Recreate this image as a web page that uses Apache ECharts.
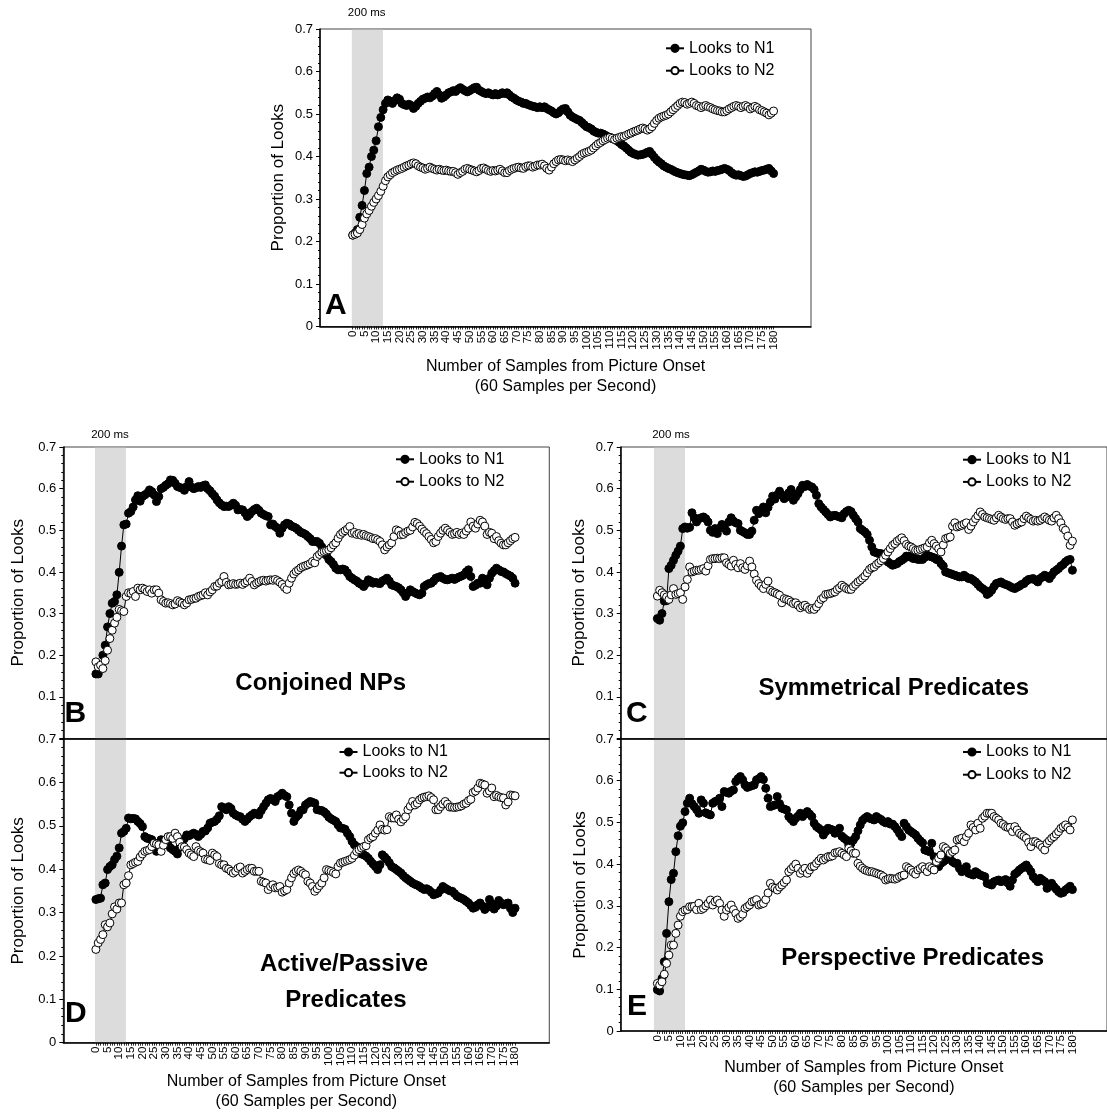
<!DOCTYPE html>
<html lang="en">
<head>
<meta charset="UTF-8" />
<title>Proportion of Looks</title>
<style>
  html, body { margin: 0; padding: 0; background: #fff; }
  #main { width: 1107px; height: 1113px; }
</style>
</head>
<body>
<div id="main"></div>
<script src="https://cdn.jsdelivr.net/npm/echarts@6/dist/echarts.min.js"></script>
<script>
const seriesNames = ['Looks to N1', 'Looks to N2']
const xTickLabels = [0, 5, 10, 15, 20, 25, 30, 35, 40, 45, 50, 55, 60, 65, 70, 75, 80, 85, 90,
  95, 100, 105, 110, 115, 120, 125, 130, 135, 140, 145, 150, 155, 160, 165, 170, 175, 180]

// A
const aN1 = [0.215, 0.22, 0.228, 0.257, 0.285, 0.32, 0.36, 0.375, 0.40, 0.415, 0.437, 0.47, 0.492, 0.51, 0.525,
  0.533, 0.53, 0.525, 0.532, 0.538, 0.535,
  0.525, 0.522, 0.52, 0.523, 0.52, 0.513, 0.518, 0.525, 0.53, 0.535,
  0.537, 0.54, 0.538, 0.542, 0.548, 0.553, 0.545, 0.537, 0.54, 0.545,
  0.55, 0.552, 0.555, 0.553, 0.558, 0.562, 0.558, 0.555, 0.552, 0.555,
  0.558, 0.562, 0.563, 0.556, 0.553, 0.55, 0.548, 0.55, 0.547, 0.545,
  0.548, 0.545, 0.547, 0.55, 0.548, 0.55, 0.545, 0.54, 0.537, 0.533,
  0.53, 0.528, 0.525, 0.525, 0.522, 0.52, 0.518, 0.517, 0.515, 0.517,
  0.515, 0.517, 0.513, 0.51, 0.507, 0.503, 0.5, 0.503, 0.508, 0.512,
  0.513, 0.505, 0.497, 0.493, 0.49, 0.487, 0.485, 0.48, 0.475, 0.47,
  0.468, 0.465, 0.46, 0.457, 0.455, 0.455, 0.453, 0.45, 0.447, 0.445,
  0.442, 0.44, 0.437, 0.433, 0.428, 0.425, 0.42, 0.415, 0.41, 0.407,
  0.405, 0.403, 0.404, 0.405, 0.407, 0.41, 0.412, 0.405, 0.398, 0.392,
  0.387, 0.383, 0.378, 0.375, 0.372, 0.37, 0.367, 0.364, 0.362, 0.36,
  0.358, 0.357, 0.356, 0.355, 0.357, 0.36, 0.363, 0.366, 0.37, 0.368,
  0.365, 0.363, 0.364, 0.366, 0.365, 0.367, 0.368, 0.37, 0.372, 0.37,
  0.367, 0.362, 0.358, 0.356, 0.357, 0.355, 0.353, 0.354, 0.357, 0.36,
  0.362, 0.364, 0.363, 0.365, 0.367, 0.368, 0.37, 0.372, 0.366, 0.36]
const aN2 = [0.215, 0.217, 0.22, 0.228, 0.24, 0.255, 0.265, 0.273, 0.283, 0.292, 0.3, 0.308, 0.318, 0.33, 0.343,
  0.352, 0.357, 0.362, 0.365, 0.368, 0.37,
  0.372, 0.375, 0.378, 0.38, 0.383, 0.385, 0.383, 0.378, 0.375, 0.373,
  0.37, 0.372, 0.375, 0.372, 0.37, 0.368, 0.37, 0.368, 0.367, 0.368,
  0.366, 0.365, 0.365, 0.362, 0.358, 0.362, 0.365, 0.37, 0.372, 0.37,
  0.368, 0.366, 0.364, 0.367, 0.372, 0.373, 0.37, 0.367, 0.365, 0.367,
  0.366, 0.368, 0.37, 0.366, 0.362, 0.362, 0.367, 0.37, 0.372, 0.374,
  0.375, 0.373, 0.372, 0.376, 0.378, 0.378, 0.375, 0.377, 0.38, 0.38,
  0.382, 0.378, 0.372, 0.368, 0.375, 0.383, 0.388, 0.392, 0.393, 0.392,
  0.39, 0.392, 0.39, 0.388, 0.392, 0.396, 0.4, 0.405, 0.408, 0.41,
  0.412, 0.415, 0.42, 0.425, 0.43, 0.433, 0.437, 0.44, 0.443, 0.445,
  0.443, 0.44, 0.443, 0.445, 0.447, 0.447, 0.45, 0.453, 0.455, 0.458,
  0.46, 0.462, 0.465, 0.467, 0.465, 0.462, 0.465, 0.47, 0.478, 0.485,
  0.49, 0.493, 0.495, 0.497, 0.5, 0.505, 0.51, 0.515, 0.52, 0.525,
  0.528, 0.527, 0.523, 0.525, 0.528, 0.525, 0.52, 0.518, 0.515, 0.518,
  0.52, 0.517, 0.515, 0.512, 0.51, 0.508, 0.507, 0.505, 0.505, 0.508,
  0.512, 0.515, 0.518, 0.52, 0.518, 0.515, 0.518, 0.52, 0.517, 0.512,
  0.515, 0.518, 0.515, 0.51, 0.508, 0.505, 0.502, 0.498, 0.502, 0.507]

// B
const bN1 = [0.155, 0.155, 0.17, 0.2, 0.224, 0.268, 0.3, 0.325, 0.329, 0.345, 0.399, 0.462, 0.513, 0.515, 0.541,
  0.545, 0.556, 0.573, 0.583, 0.57, 0.581,
  0.585, 0.589, 0.597, 0.593, 0.585, 0.569, 0.581, 0.6, 0.603, 0.608,
  0.612, 0.621, 0.62, 0.613, 0.605, 0.603, 0.601, 0.596, 0.605, 0.617,
  0.604, 0.6, 0.602, 0.605, 0.603, 0.607, 0.609, 0.6, 0.595, 0.588,
  0.582, 0.573, 0.566, 0.561, 0.557, 0.558, 0.557, 0.56, 0.565, 0.56,
  0.549, 0.55, 0.549, 0.542, 0.533, 0.538, 0.545, 0.55, 0.553, 0.548,
  0.541, 0.538, 0.535, 0.533, 0.513, 0.515, 0.509, 0.505, 0.493, 0.505,
  0.513, 0.517, 0.515, 0.51, 0.508, 0.505, 0.5, 0.495, 0.493, 0.49,
  0.485, 0.48, 0.473, 0.473, 0.473, 0.469, 0.46, 0.445, 0.44, 0.43,
  0.425, 0.418, 0.409, 0.405, 0.405, 0.407, 0.405, 0.398, 0.389, 0.385,
  0.381, 0.378, 0.373, 0.37, 0.365, 0.372, 0.381, 0.378, 0.373, 0.375,
  0.373, 0.372, 0.378, 0.381, 0.385, 0.378, 0.369, 0.367, 0.365, 0.362,
  0.357, 0.35, 0.341, 0.35, 0.357, 0.353, 0.35, 0.347, 0.345, 0.349,
  0.365, 0.369, 0.372, 0.373, 0.378, 0.385, 0.387, 0.389, 0.385, 0.382,
  0.381, 0.383, 0.385, 0.382, 0.385, 0.388, 0.39, 0.393, 0.4, 0.405,
  0.389, 0.365, 0.368, 0.373, 0.373, 0.385, 0.378, 0.369, 0.385, 0.397,
  0.403, 0.409, 0.405, 0.401, 0.4, 0.396, 0.393, 0.39, 0.385, 0.373]
const bN2 = [0.184, 0.172, 0.176, 0.168, 0.187, 0.212, 0.24, 0.26, 0.277, 0.291, 0.31, 0.307, 0.305, 0.341, 0.35,
  0.349, 0.353, 0.341, 0.361, 0.357, 0.361,
  0.358, 0.353, 0.357, 0.349, 0.357, 0.357, 0.349, 0.333, 0.329, 0.325,
  0.326, 0.324, 0.321, 0.323, 0.331, 0.328, 0.325, 0.321, 0.325, 0.333,
  0.334, 0.336, 0.337, 0.341, 0.343, 0.345, 0.35, 0.345, 0.352, 0.357,
  0.365, 0.366, 0.373, 0.377, 0.389, 0.375, 0.369, 0.37, 0.372, 0.37,
  0.371, 0.373, 0.37, 0.374, 0.378, 0.385, 0.377, 0.369, 0.373, 0.376,
  0.379, 0.38, 0.378, 0.38, 0.381, 0.38, 0.382, 0.379, 0.375, 0.37,
  0.363, 0.358, 0.373, 0.385, 0.395, 0.401, 0.405, 0.41, 0.413, 0.415,
  0.417, 0.42, 0.425, 0.422, 0.437, 0.442, 0.447, 0.449, 0.451, 0.453,
  0.458, 0.465, 0.47, 0.481, 0.49, 0.495, 0.499, 0.503, 0.509, 0.493,
  0.495, 0.49, 0.492, 0.488, 0.49, 0.487, 0.485, 0.483, 0.48, 0.48,
  0.477, 0.473, 0.465, 0.453, 0.46, 0.465, 0.47, 0.485, 0.501, 0.498,
  0.489, 0.49, 0.495, 0.498, 0.5, 0.508, 0.519, 0.516, 0.51, 0.503,
  0.497, 0.492, 0.485, 0.478, 0.47, 0.473, 0.485, 0.493, 0.5, 0.505,
  0.5, 0.495, 0.49, 0.492, 0.495, 0.49, 0.493, 0.49, 0.498, 0.505,
  0.52, 0.51, 0.505, 0.515, 0.524, 0.52, 0.51, 0.49, 0.495, 0.493,
  0.48, 0.485, 0.475, 0.469, 0.465, 0.465, 0.47, 0.475, 0.48, 0.483]

// C
const cN1 = [0.288, 0.284, 0.3, 0.33, 0.331, 0.408, 0.416, 0.428, 0.44, 0.45, 0.462, 0.504, 0.508, 0.505, 0.507,
  0.542, 0.53, 0.52, 0.528, 0.53, 0.532,
  0.528, 0.52, 0.5, 0.495, 0.504, 0.492, 0.505, 0.514, 0.51, 0.498,
  0.52, 0.53, 0.522, 0.518, 0.516, 0.5, 0.497, 0.494, 0.49, 0.49,
  0.498, 0.524, 0.548, 0.54, 0.548, 0.556, 0.542, 0.555, 0.568, 0.582,
  0.575, 0.585, 0.594, 0.585, 0.576, 0.58, 0.59, 0.598, 0.572, 0.58,
  0.588, 0.598, 0.608, 0.605, 0.61, 0.606, 0.604, 0.598, 0.584, 0.564,
  0.556, 0.55, 0.544, 0.538, 0.532, 0.535, 0.536, 0.534, 0.532, 0.53,
  0.54, 0.545, 0.548, 0.545, 0.536, 0.528, 0.52, 0.504, 0.5, 0.496,
  0.49, 0.476, 0.46, 0.448, 0.446, 0.444, 0.444, 0.442, 0.44, 0.424,
  0.42, 0.416, 0.418, 0.42, 0.425, 0.428, 0.432, 0.438, 0.438, 0.435,
  0.432, 0.432, 0.43, 0.43, 0.43, 0.435, 0.44, 0.438, 0.436, 0.434,
  0.43, 0.428, 0.42, 0.414, 0.4, 0.398, 0.396, 0.394, 0.392, 0.39,
  0.388, 0.388, 0.392, 0.388, 0.384, 0.384, 0.38, 0.376, 0.37, 0.364,
  0.36, 0.356, 0.346, 0.35, 0.356, 0.365, 0.372, 0.374, 0.376, 0.372,
  0.37, 0.368, 0.365, 0.362, 0.36, 0.363, 0.366, 0.37, 0.372, 0.378,
  0.382, 0.383, 0.384, 0.38, 0.376, 0.384, 0.388, 0.392, 0.388, 0.384,
  0.392, 0.4, 0.404, 0.408, 0.414, 0.418, 0.424, 0.428, 0.43, 0.404]
const cN2 = [0.342, 0.356, 0.35, 0.345, 0.34, 0.334, 0.345, 0.36, 0.346, 0.348, 0.35, 0.334, 0.364, 0.382, 0.412,
  0.4, 0.402, 0.404, 0.404, 0.406, 0.408,
  0.402, 0.415, 0.43, 0.432, 0.432, 0.433, 0.432, 0.434, 0.434, 0.422,
  0.418, 0.414, 0.428, 0.418, 0.41, 0.42, 0.41, 0.406, 0.415, 0.426,
  0.412, 0.395, 0.38, 0.372, 0.366, 0.36, 0.37, 0.378, 0.356, 0.352,
  0.35, 0.347, 0.344, 0.326, 0.336, 0.334, 0.332, 0.328, 0.324, 0.326,
  0.32, 0.314, 0.318, 0.32, 0.315, 0.31, 0.312, 0.31, 0.316, 0.324,
  0.334, 0.338, 0.346, 0.347, 0.348, 0.35, 0.352, 0.358, 0.362, 0.368,
  0.364, 0.36, 0.358, 0.358, 0.365, 0.37, 0.376, 0.38, 0.385, 0.39,
  0.398, 0.406, 0.41, 0.412, 0.418, 0.422, 0.427, 0.432, 0.44, 0.448,
  0.456, 0.464, 0.468, 0.474, 0.478, 0.482, 0.475, 0.466, 0.462, 0.46,
  0.456, 0.452, 0.452, 0.454, 0.456, 0.458, 0.46, 0.47, 0.476, 0.468,
  0.462, 0.456, 0.448, 0.465, 0.48, 0.482, 0.484, 0.51, 0.518, 0.508,
  0.51, 0.512, 0.515, 0.518, 0.502, 0.51, 0.52, 0.528, 0.535, 0.544,
  0.538, 0.532, 0.53, 0.528, 0.526, 0.524, 0.53, 0.536, 0.532, 0.528,
  0.526, 0.528, 0.528, 0.52, 0.512, 0.515, 0.518, 0.52, 0.528, 0.534,
  0.53, 0.526, 0.522, 0.524, 0.522, 0.524, 0.528, 0.532, 0.528, 0.524,
  0.522, 0.53, 0.536, 0.528, 0.518, 0.505, 0.5, 0.486, 0.464, 0.474]

// D
const dN1 = [0.33, 0.332, 0.333, 0.364, 0.368, 0.399, 0.406, 0.41, 0.422, 0.43, 0.449, 0.483, 0.487, 0.494, 0.518,
  0.516, 0.517, 0.516, 0.51, 0.505, 0.498,
  0.475, 0.471, 0.47, 0.468, 0.455, 0.441, 0.46, 0.468, 0.465, 0.462,
  0.456, 0.449, 0.445, 0.441, 0.435, 0.45, 0.46, 0.47, 0.479, 0.477,
  0.48, 0.483, 0.48, 0.475, 0.48, 0.487, 0.488, 0.495, 0.506, 0.508,
  0.51, 0.515, 0.523, 0.544, 0.54, 0.537, 0.544, 0.54, 0.529, 0.525,
  0.522, 0.521, 0.515, 0.51, 0.515, 0.521, 0.525, 0.529, 0.527, 0.525,
  0.535, 0.544, 0.552, 0.56, 0.563, 0.56, 0.556, 0.567, 0.57, 0.575,
  0.57, 0.567, 0.548, 0.529, 0.51, 0.52, 0.525, 0.535, 0.537, 0.548,
  0.552, 0.556, 0.554, 0.552, 0.537, 0.536, 0.535, 0.532, 0.527, 0.52,
  0.516, 0.513, 0.51, 0.502, 0.495, 0.494, 0.492, 0.483, 0.475, 0.464,
  0.456, 0.452, 0.437, 0.435, 0.433, 0.43, 0.425, 0.418, 0.412, 0.406,
  0.399, 0.41, 0.433, 0.428, 0.422, 0.415, 0.406, 0.403, 0.399, 0.395,
  0.391, 0.385, 0.38, 0.376, 0.372, 0.368, 0.365, 0.363, 0.36, 0.356,
  0.353, 0.355, 0.352, 0.347, 0.341, 0.343, 0.345, 0.352, 0.36, 0.356,
  0.353, 0.35, 0.349, 0.344, 0.338, 0.335, 0.333, 0.33, 0.326, 0.322,
  0.316, 0.31, 0.312, 0.318, 0.322, 0.315, 0.307, 0.312, 0.33, 0.32,
  0.308, 0.315, 0.328, 0.322, 0.318, 0.32, 0.322, 0.31, 0.3, 0.31]
const dN2 = [0.215, 0.23, 0.238, 0.249, 0.272, 0.267, 0.276, 0.297, 0.313, 0.308, 0.322, 0.322, 0.364, 0.368, 0.385,
  0.41, 0.413, 0.416, 0.418, 0.428, 0.435,
  0.441, 0.443, 0.445, 0.452, 0.46, 0.458, 0.456, 0.441, 0.455, 0.468,
  0.475, 0.475, 0.471, 0.483, 0.475, 0.462, 0.452, 0.451, 0.445, 0.437,
  0.433, 0.429, 0.452, 0.443, 0.44, 0.437, 0.423, 0.422, 0.42, 0.437,
  0.433, 0.429, 0.413, 0.41, 0.41, 0.402, 0.4, 0.395, 0.391, 0.395,
  0.402, 0.405, 0.391, 0.395, 0.399, 0.402, 0.402, 0.395, 0.395, 0.395,
  0.372, 0.37, 0.368, 0.353, 0.36, 0.364, 0.357, 0.358, 0.36, 0.347,
  0.35, 0.353, 0.368, 0.38, 0.39, 0.395, 0.398, 0.395, 0.39, 0.387,
  0.372, 0.368, 0.36, 0.349, 0.355, 0.362, 0.368, 0.38, 0.399, 0.397,
  0.395, 0.392, 0.389, 0.406, 0.414, 0.416, 0.418, 0.42, 0.422, 0.425,
  0.432, 0.441, 0.445, 0.449, 0.452, 0.454, 0.468, 0.472, 0.475, 0.483,
  0.49, 0.502, 0.492, 0.49, 0.491, 0.521, 0.518, 0.518, 0.525, 0.515,
  0.509, 0.515, 0.521, 0.537, 0.545, 0.556, 0.548, 0.552, 0.56, 0.564,
  0.566, 0.567, 0.569, 0.565, 0.56, 0.537, 0.537, 0.544, 0.55, 0.556,
  0.55, 0.543, 0.543, 0.542, 0.543, 0.544, 0.546, 0.55, 0.552, 0.558,
  0.561, 0.577, 0.58, 0.587, 0.598, 0.596, 0.594, 0.575, 0.58, 0.587,
  0.567, 0.57, 0.567, 0.565, 0.564, 0.548, 0.555, 0.571, 0.57, 0.569]

// E
const eN1 = [0.099, 0.096, 0.126, 0.166, 0.234, 0.31, 0.363, 0.378, 0.43, 0.468, 0.491, 0.499, 0.526, 0.546, 0.558,
  0.545, 0.538, 0.531, 0.522, 0.554, 0.546,
  0.523, 0.52, 0.518, 0.546, 0.55, 0.552, 0.558, 0.538, 0.574, 0.572,
  0.57, 0.575, 0.578, 0.598, 0.605, 0.61, 0.602, 0.59, 0.584, 0.586,
  0.588, 0.59, 0.602, 0.605, 0.61, 0.603, 0.582, 0.558, 0.538, 0.54,
  0.542, 0.562, 0.545, 0.534, 0.532, 0.53, 0.514, 0.508, 0.502, 0.51,
  0.515, 0.522, 0.514, 0.52, 0.526, 0.52, 0.514, 0.498, 0.49, 0.486,
  0.482, 0.47, 0.478, 0.486, 0.484, 0.482, 0.474, 0.48, 0.486, 0.467,
  0.462, 0.458, 0.446, 0.45, 0.458, 0.466, 0.48, 0.494, 0.505, 0.51,
  0.514, 0.51, 0.508, 0.506, 0.514, 0.51, 0.507, 0.502, 0.499, 0.502,
  0.496, 0.496, 0.49, 0.483, 0.474, 0.466, 0.498, 0.49, 0.482, 0.478,
  0.474, 0.47, 0.462, 0.456, 0.451, 0.434, 0.432, 0.43, 0.45, 0.418,
  0.405, 0.394, 0.402, 0.406, 0.41, 0.418, 0.412, 0.406, 0.402, 0.402,
  0.39, 0.382, 0.388, 0.394, 0.378, 0.376, 0.374, 0.382, 0.378, 0.374,
  0.372, 0.37, 0.354, 0.352, 0.35, 0.358, 0.36, 0.362, 0.358, 0.36,
  0.363, 0.355, 0.347, 0.362, 0.376, 0.38, 0.386, 0.39, 0.394, 0.398,
  0.39, 0.382, 0.37, 0.364, 0.358, 0.366, 0.362, 0.358, 0.342, 0.35,
  0.354, 0.346, 0.34, 0.334, 0.33, 0.332, 0.338, 0.342, 0.347, 0.339]
const eN2 = [0.114, 0.11, 0.118, 0.136, 0.162, 0.182, 0.206, 0.206, 0.234, 0.254, 0.275, 0.286, 0.29, 0.291, 0.298,
  0.298, 0.299, 0.291, 0.306, 0.291, 0.294,
  0.3, 0.306, 0.314, 0.302, 0.31, 0.314, 0.306, 0.29, 0.275, 0.29,
  0.296, 0.302, 0.291, 0.282, 0.27, 0.274, 0.28, 0.294, 0.298, 0.302,
  0.31, 0.312, 0.315, 0.302, 0.304, 0.306, 0.315, 0.331, 0.354, 0.345,
  0.342, 0.338, 0.345, 0.35, 0.356, 0.362, 0.382, 0.388, 0.394, 0.4,
  0.39, 0.378, 0.385, 0.39, 0.378, 0.386, 0.394, 0.395, 0.402, 0.408,
  0.414, 0.41, 0.414, 0.418, 0.418, 0.42, 0.427, 0.428, 0.43, 0.426,
  0.422, 0.418, 0.438, 0.432, 0.426, 0.426, 0.402, 0.395, 0.39, 0.386,
  0.384, 0.382, 0.382, 0.38, 0.378, 0.376, 0.374, 0.37, 0.362, 0.364,
  0.366, 0.365, 0.364, 0.366, 0.37, 0.372, 0.374, 0.394, 0.39, 0.386,
  0.38, 0.376, 0.386, 0.39, 0.394, 0.388, 0.382, 0.394, 0.39, 0.386,
  0.406, 0.414, 0.422, 0.442, 0.438, 0.432, 0.426, 0.43, 0.434, 0.458,
  0.46, 0.462, 0.454, 0.466, 0.474, 0.494, 0.488, 0.482, 0.498, 0.486,
  0.51, 0.515, 0.522, 0.522, 0.522, 0.514, 0.51, 0.506, 0.498, 0.495,
  0.49, 0.488, 0.488, 0.478, 0.49, 0.482, 0.474, 0.47, 0.466, 0.462,
  0.452, 0.442, 0.454, 0.454, 0.45, 0.446, 0.44, 0.434, 0.45, 0.456,
  0.462, 0.466, 0.472, 0.478, 0.486, 0.49, 0.494, 0.488, 0.482, 0.506]

const FONT = '"Liberation Sans", Arial, sans-serif'

// pixel layout of the five panels
const panels = [
  { n1: aN1, n2: aN2, grid: { left: 320, top: 29, width: 491, height: 297.5 }, xMin: -14, xMax: 196,
    band: [-0.4, 12.9], showX: true, xNameGap: 30.5, yNameGap: 41.5, hideZero: false,
    legend: { left: 665, top: 38.3, itemGap: 2.4 } },
  { n1: bN1, n2: bN2, grid: { left: 63.3, top: 447, width: 486, height: 291.5 }, xMin: -14, xMax: 194.7,
    band: [-0.4, 12.9], showX: false, yNameGap: 45, hideZero: true,
    legend: { left: 395, top: 449.3, itemGap: 2.4 } },
  { n1: cN1, n2: cN2, grid: { left: 620.7, top: 447, width: 491.5, height: 291.5 }, xMin: -15.9, xMax: 195,
    band: [-1.5, 12], showX: false, yNameGap: 41, hideZero: true,
    legend: { left: 962, top: 449.7, itemGap: 2.2 } },
  { n1: dN1, n2: dN2, grid: { left: 63.3, top: 739, width: 486, height: 303.7 }, xMin: -14, xMax: 194.7,
    band: [-0.4, 12.9], showX: true, xNameGap: 29, yNameGap: 45, hideZero: false,
    legend: { left: 338.5, top: 742, itemGap: 0.7 } },
  { n1: eN1, n2: eN2, grid: { left: 620.7, top: 739, width: 491.5, height: 292 }, xMin: -15.9, xMax: 195,
    band: [-1.5, 12], showX: true, xNameGap: 22.5, yNameGap: 40, hideZero: false,
    legend: { left: 962, top: 742, itemGap: 2.7 } }
]

const sampleTicks = aN1.map((_, i) => i)
// labels split over two axes so ECharts' overlap check keeps every one
const xLabelsTens = xTickLabels.filter(v => v % 10 === 0)
const xLabelsFives = xTickLabels.filter(v => v % 10 === 5)

const labelStyle = {
  rotate: 90, margin: 4, fontSize: 11.5, color: '#000', fontFamily: FONT,
  showMinLabel: true, showMaxLabel: true, hideOverlap: false
}

const grid = [], xAxis = [], extraX = [], yAxis = [], series = [], legend = []
panels.forEach((p, k) => {
  grid.push(Object.assign({ show: true, borderColor: '#444', borderWidth: 1, backgroundColor: 'transparent' }, p.grid))
  xAxis.push({
    type: 'value', gridIndex: k, position: 'bottom', min: p.xMin, max: p.xMax, z: 10,
    name: p.showX ? 'Number of Samples from Picture Onset\n(60 Samples per Second)' : '',
    nameLocation: 'middle', nameGap: p.xNameGap || 30,
    nameTextStyle: { fontSize: 16, color: '#000', lineHeight: 20, verticalAlign: 'top', fontFamily: FONT },
    splitLine: { show: false },
    axisLine: { show: true, onZero: false, lineStyle: { color: '#000', width: 1.5 } },
    axisTick: { show: p.showX, customValues: sampleTicks, length: 3, lineStyle: { color: '#000', width: 0.8 } },
    axisLabel: Object.assign({ show: p.showX, customValues: xLabelsTens }, labelStyle)
  })
  if (p.showX) {
    extraX.push({
      type: 'value', gridIndex: k, position: 'bottom', min: p.xMin, max: p.xMax, z: 10,
      splitLine: { show: false }, axisLine: { show: false }, axisTick: { show: false },
      axisLabel: Object.assign({ customValues: xLabelsFives }, labelStyle)
    })
  }
  yAxis.push({
    type: 'value', gridIndex: k, min: 0, max: 0.7, interval: 0.1, z: 10,
    name: 'Proportion of Looks', nameLocation: 'middle', nameGap: p.yNameGap,
    nameTextStyle: { fontSize: 17, color: '#000', verticalAlign: 'middle', fontFamily: FONT },
    splitLine: { show: false },
    axisLine: { show: true, onZero: false, lineStyle: { color: '#000', width: 1.5 } },
    axisTick: { show: true, length: 4, lineStyle: { color: '#000' } },
    minorTick: { show: true, splitNumber: 5, length: 2, lineStyle: { color: '#000' } },
    axisLabel: {
      margin: 7, fontSize: 13, color: '#000', fontFamily: FONT,
      formatter: v => (v === 0 ? (p.hideZero ? '' : '0') : v.toFixed(1))
    }
  })
  series.push({
    type: 'line', xAxisIndex: k, yAxisIndex: k, data: [], z: 1, silent: true,
    markArea: { silent: true, itemStyle: { color: '#dcdcdc' }, label: { show: false },
      data: [[{ xAxis: p.band[0], yAxis: 0 }, { xAxis: p.band[1], yAxis: 0.698 }]] }
  })
  series.push({
    name: seriesNames[0], type: 'line', xAxisIndex: k, yAxisIndex: k, z: 3,
    data: p.n1.map((v, i) => [i, v]),
    symbol: 'circle', symbolSize: 8, showAllSymbol: true,
    lineStyle: { color: '#000', width: 1 },
    itemStyle: { color: '#000', borderColor: '#000', borderWidth: 1 }
  })
  series.push({
    name: seriesNames[1], type: 'line', xAxisIndex: k, yAxisIndex: k, z: 4,
    data: p.n2.map((v, i) => [i, v]),
    symbol: 'circle', symbolSize: 8, showAllSymbol: true,
    lineStyle: { color: '#000', width: 1 },
    itemStyle: { color: '#fff', borderColor: '#000', borderWidth: 1 }
  })
  legend.push({
    orient: 'vertical', left: p.legend.left, top: p.legend.top, itemGap: p.legend.itemGap,
    itemWidth: 18, itemHeight: 9, selectedMode: false, padding: 0,
    textStyle: { fontSize: 16, color: '#000', lineHeight: 20, fontFamily: FONT },
    data: seriesNames
  })
})

function txt(text, x, y, size, bold, align) {
  return {
    type: 'text', x: x, y: y, z: 20, silent: true,
    style: { text: text, font: (bold ? 'bold ' : '') + size + 'px ' + FONT, fill: '#000',
      align: align || 'center', verticalAlign: 'middle' }
  }
}

const graphic = [
  txt('200 ms', 366.7, 13, 11.5, false),
  txt('200 ms', 110, 435, 11.5, false),
  txt('200 ms', 671, 435, 11.5, false),
  txt('A', 325, 305.8, 30, true, 'left'),
  txt('B', 64.5, 714, 30, true, 'left'),
  txt('C', 626, 714, 30, true, 'left'),
  txt('D', 65, 1014, 30, true, 'left'),
  txt('E', 627, 1006.5, 30, true, 'left'),
  txt('Conjoined NPs', 320.7, 683.5, 24, true),
  txt('Symmetrical Predicates', 893.8, 688, 24, true),
  txt('Active/Passive', 344, 964, 24, true),
  txt('Predicates', 345.9, 1000, 24, true),
  txt('Perspective Predicates', 912.6, 958.3, 24, true)
]

const chart = echarts.init(document.getElementById('main'), null, { renderer: 'canvas' })
chart.setOption({
  animation: false,
  backgroundColor: '#fff',
  textStyle: { fontFamily: FONT },
  grid: grid,
  xAxis: xAxis.concat(extraX),
  yAxis: yAxis,
  legend: legend,
  series: series,
  graphic: graphic
})
</script>
</body>
</html>
